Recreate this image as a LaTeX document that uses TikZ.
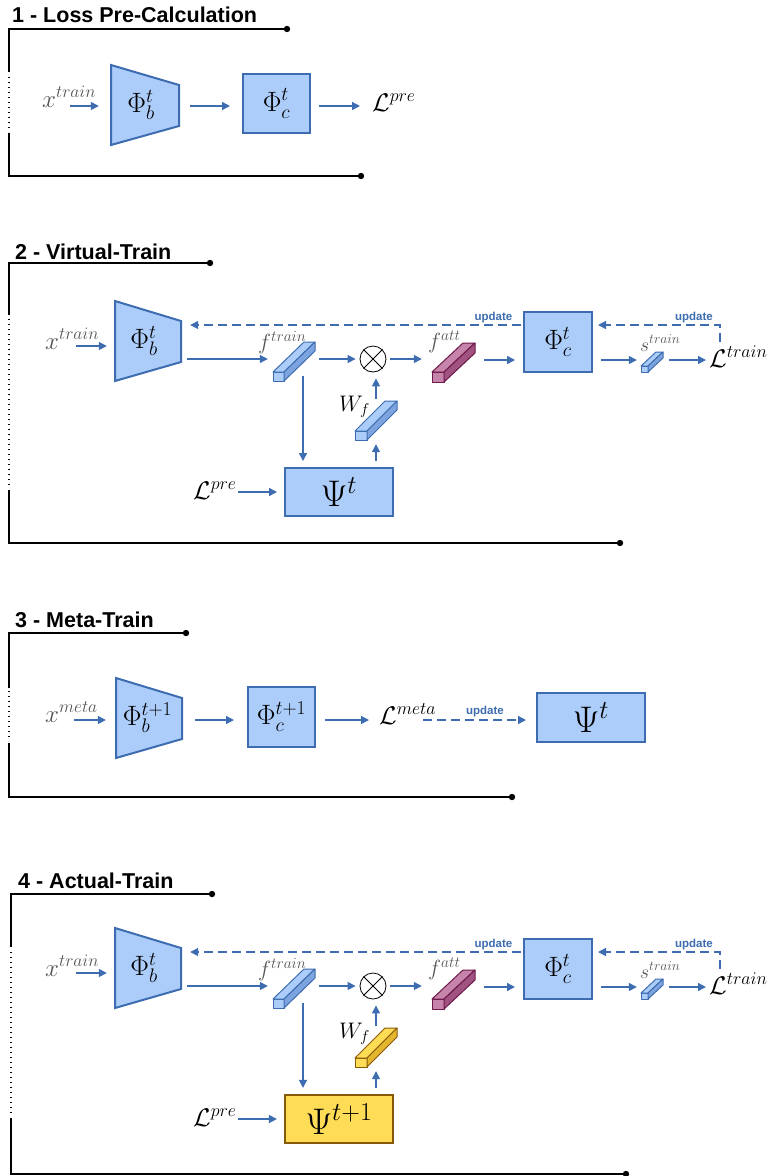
\RequirePackage{fix-cm}
\documentclass[tikz,border=0pt]{standalone}
\usepackage{fontspec}
\newfontfamily\titlefont{Liberation Sans}
\usetikzlibrary{arrows.meta}
\definecolor{bfill}{RGB}{172,205,250}
\definecolor{bline}{RGB}{61,109,176}
\definecolor{bside}{RGB}{125,164,222}
\definecolor{mfill}{RGB}{198,132,170}
\definecolor{mside}{RGB}{160,82,128}
\definecolor{mline}{RGB}{110,25,75}
\definecolor{yfill}{RGB}{255,220,85}
\definecolor{yside}{RGB}{228,182,45}
\definecolor{yline}{RGB}{135,90,10}
\definecolor{lgray}{RGB}{85,85,85}
\tikzset{
  arr/.style={draw=bline, line width=1.4pt, -{Triangle[length=8pt,width=8pt]}},
  darr/.style={arr, dash pattern=on 9pt off 5pt},
  boxst/.style={draw=bline, fill=bfill, line width=2pt},
  box/.style={boxst, inner sep=0, font=\fontsize{28}{32}\selectfont},
  ybox/.style={draw=yline, fill=yfill, line width=2.2pt, inner sep=0, font=\fontsize{37}{40}\selectfont},
  psib/.style={boxst, inner sep=0, font=\fontsize{37}{40}\selectfont},
  phi/.style={inner sep=0, font=\fontsize{28}{32}\selectfont},
  brk/.style={line width=1.3pt, black},
  dotl/.style={line width=1.3pt, black, dash pattern=on 1.3pt off 3.7pt},
  xlab/.style={inner sep=0, text=lgray, font=\fontsize{25}{28}\selectfont},
  llab/.style={inner sep=0, font=\fontsize{25.5}{28}\selectfont},
  flab/.style={inner sep=0, text=lgray, font=\fontsize{22}{26}\selectfont},
  slab/.style={inner sep=0, text=lgray, font=\fontsize{19.5}{22}\selectfont},
  wlab/.style={inner sep=0, font=\fontsize{22.5}{26}\selectfont},
  ttl/.style={inner sep=0, font=\titlefont\bfseries\fontsize{21.5}{24}\selectfont},
  upd/.style={inner sep=0, anchor=base, text=bline, font=\titlefont\bfseries\fontsize{11.5}{13}\selectfont},
  otim/.style={circle, draw, line width=0.8pt, minimum size=26pt, inner sep=0},
}
% #1 name, #2 x0, #3 y bottom, #4 w, #5 h, #6 dx, #7 up, #8 colour prefix
\newcommand{\cuboid}[8]{%
  \filldraw[fill=#8fill, draw=#8line, line width=1pt, line join=round]
    (#2,#3) coordinate (#1A) -- ++(#4,0) coordinate (#1B) -- ++(0,-#5) coordinate (#1C) -- ++(-#4,0) coordinate (#1D) -- cycle;
  \filldraw[fill=#8fill, draw=#8line, line width=1pt, line join=round]
    (#1D) -- ++(#6,-#7) -- ++(#4,0) -- (#1C) -- cycle;
  \filldraw[fill=#8side, draw=#8line, line width=1pt, line join=round]
    (#1B) -- ++(#6,-#7) -- ++(0,-#5) -- (#1C) -- cycle;
  \node[inner sep=0, minimum width=#4+#6, minimum height=#5+#7] (#1) at ({#2+(#4+#6)/2},{#3-(#5+#7)/2}) {};
}
% #1 psi text, #2 psi style, #3 W_f colour prefix
\newcommand{\trainsec}[3]{%
  \coordinate (row) at (0,359);
  \coordinate (row2) at (0,360);
  \coordinate (rx) at (0,346);
  \coordinate (uy) at (0,325);
  \coordinate (wx) at (376,0);
  \draw[boxst] (115,301) -- (181,321) -- (181,362) -- (115,381) -- cycle;
  \node[phi, minimum width=58, minimum height=80] (phib) at (144,341) {$\Phi_b^t$};
  \node[xlab, anchor=base west] (xl) at (45,349) {$x^{train}$};
  \draw[arr, shorten >=8pt] ([shift={(31,-3)}]xl.base west) -- (phib.west |- rx);
  \cuboid{ftr}{273}{381}{11}{9}{31}{30}{b}
  \node[flab, anchor=base west] (fl) at (258,349) {$f^{train}$};
  \draw[arr, shorten <=14pt, shorten >=5pt] (phib.east |- row) -- (ftr.west |- row);
  \node[otim] (ot) at (373,359) {};
  \draw[line width=0.8pt] (ot.north east) -- (ot.south west) (ot.north west) -- (ot.south east);
  \draw[arr, shorten <=4pt, shorten >=4pt] (ftr.east |- row) -- (ot.west);
  \cuboid{fat}{432}{382}{12}{10}{31}{29}{m}
  \node[flab, anchor=base west] (fal) at (428,348) {$f^{att}$};
  \draw[arr, shorten <=4pt, shorten >=10pt] (ot.east) -- (fat.west |- row);
  \node[box, minimum width=68, minimum height=60] (phic) at (558,342) {$\Phi_c^t$};
  \draw[arr, shorten <=9pt, shorten >=8pt] (fat.east |- row2) -- (phic.west |- row2);
  \cuboid{st}{641}{372}{7}{6}{15}{14}{b}
  \node[slab, anchor=base west] (sl) at (640,351) {$s^{train}$};
  \draw[arr, shorten <=8pt, shorten >=4pt] (phic.east |- row2) -- (st.west |- row2);
  \node[llab, anchor=base west] (lt) at (709,367) {$\mathcal{L}^{train}$};
  \draw[arr, shorten <=6pt] (st.east |- row2) -- ([shift={(-3,-7)}]lt.base west);
  \draw[darr, shorten >=5pt] ([shift={(11,-25)}]lt.base west) |- (phic.east |- uy);
  \node[upd] (u2) at (694,320) {update};
  \draw[darr, shorten <=2pt, shorten >=17pt] (phic.west |- uy) -- (phib.east |- uy);
  \node[upd] (u1) at (493.5,320) {update};
  \node[#2, minimum width=108, minimum height=48] (psi) at (339,492) {$#1$};
  \coordinate (fd) at ([shift={(9,-5)}]ftr.south);
  \draw[arr, shorten >=6pt] (fd) -- (fd |- psi.north);
  \node[llab, anchor=base west] (lpre) at (193,499) {$\mathcal{L}^{pre}$};
  \draw[arr, shorten >=7pt] ([shift={(45,-7)}]lpre.base west) -- (psi.west);
  \cuboid{wf}{355}{440}{12}{9}{30}{30}{#3}
  \node[wlab, anchor=base west] (wl) at (339,411) {$W_f$};
  \draw[arr, shorten <=6pt, shorten >=4pt] (psi.north -| wx) -- (wf.south -| wx);
  \draw[arr, shorten <=2pt, shorten >=6pt] (wf.north -| wx) -- (ot.south -| wx);
}
\begin{document}
\begin{tikzpicture}[x=1pt,y=-1pt]
\useasboundingbox[fill=white] (0,0) rectangle (769,1176);
% ---------- Section 1
\node[ttl, anchor=base west] (t1) at (12,22) {1 - Loss Pre-Calculation};
\coordinate (b1s) at (287,29);
\coordinate (b1e) at (361,176);
\draw[brk] (b1s) -- (9,29) -- (9,72);
\draw[dotl] (9,77) -- (9,132);
\draw[brk] (9,133) -- (9,176) -- (b1e);
\fill (b1s) circle (3.2pt);
\fill (b1e) circle (3.2pt);
\draw[boxst] (111,65) -- (179,85) -- (179,126) -- (111,145) -- cycle;
\node[phi, minimum width=60, minimum height=80] (phib1) at (141,105) {$\Phi_b^t$};
\node[box, minimum width=67, minimum height=59] (phic1) at (276.5,103.5) {$\Phi_c^t$};
\node[xlab, anchor=base west] (x1) at (42,107) {$x^{train}$};
\node[llab, anchor=base west] (lp1) at (372,111) {$\mathcal{L}^{pre}$};
\coordinate (r1) at (0,106);
\draw[arr, shorten >=12pt] ([shift={(28,-1)}]x1.base west) -- (phib1.west |- r1);
\draw[arr, shorten <=19pt, shorten >=12pt] (phib1.east |- r1) -- (phic1.west |- r1);
\draw[arr, shorten <=8pt] (phic1.east |- r1) -- ([shift={(-12,-5)}]lp1.base west);
% ---------- Section 2
\node[ttl, anchor=base west] (t2) at (15,259) {2 - Virtual-Train};
\coordinate (b2s) at (210,263);
\coordinate (b2e) at (620,543);
\draw[brk] (b2s) -- (9,263) -- (9,315);
\draw[dotl] (9,319) -- (9,488);
\draw[brk] (9,490) -- (9,543) -- (b2e);
\fill (b2s) circle (3.2pt);
\fill (b2e) circle (3.2pt);
\begin{scope}[name prefix=s2-]
\trainsec{\Psi^t}{psib}{b}
\end{scope}
% ---------- Section 3
\node[ttl, anchor=base west] (t3) at (15,627) {3 - Meta-Train};
\coordinate (b3s) at (186,633);
\coordinate (b3e) at (512,797);
\draw[brk] (b3s) -- (9,633) -- (9,688);
\draw[dotl] (9,691) -- (9,741);
\draw[brk] (9,743) -- (9,797) -- (b3e);
\fill (b3s) circle (3.2pt);
\fill (b3e) circle (3.2pt);
\draw[boxst] (116,678) -- (182,698) -- (182,739) -- (116,758) -- cycle;
\node[phi, minimum width=63, minimum height=80] (phib3) at (147.5,718) {$\Phi_b^{t+1}$};
\node[xlab, anchor=base west] (x3) at (45,722) {$x^{meta}$};
\coordinate (r3) at (0,720);
\draw[arr, shorten >=10pt] ([shift={(29,-2)}]x3.base west) -- (phib3.west |- r3);
\node[box, minimum width=67, minimum height=60] (phic3) at (281.5,717) {$\Phi_c^{t+1}$};
\draw[arr, shorten <=16pt, shorten >=13pt] (phib3.east |- r3) -- (phic3.west |- r3);
\node[llab, anchor=base west] (lm3) at (379,724) {$\mathcal{L}^{meta}$};
\draw[arr, shorten <=9pt] (phic3.east |- r3) -- ([shift={(-10,-4)}]lm3.base west);
\node[psib, minimum width=108, minimum height=49] (psi3) at (591,717.5) {$\Psi^t$};
\draw[darr, shorten >=10pt] ([shift={(44,-4)}]lm3.base west) -- (psi3.west |- r3);
\node[upd] (u3) at (485,714) {update};
% ---------- Section 4
\node[ttl, anchor=base west] (t4) at (18,888) {4 - Actual-Train};
\coordinate (b4s) at (212,894);
\coordinate (b4e) at (626,1174);
\draw[brk] (b4s) -- (11,894) -- (11,947);
\draw[dotl] (11,952) -- (11,1116);
\draw[brk] (11,1118) -- (11,1174) -- (b4e);
\fill (b4s) circle (3.2pt);
\fill (b4e) circle (3.2pt);
\begin{scope}[yshift=-627pt, name prefix=s4-]
\trainsec{\Psi^{t+1}}{ybox}{y}
\end{scope}
\end{tikzpicture}
\end{document}
